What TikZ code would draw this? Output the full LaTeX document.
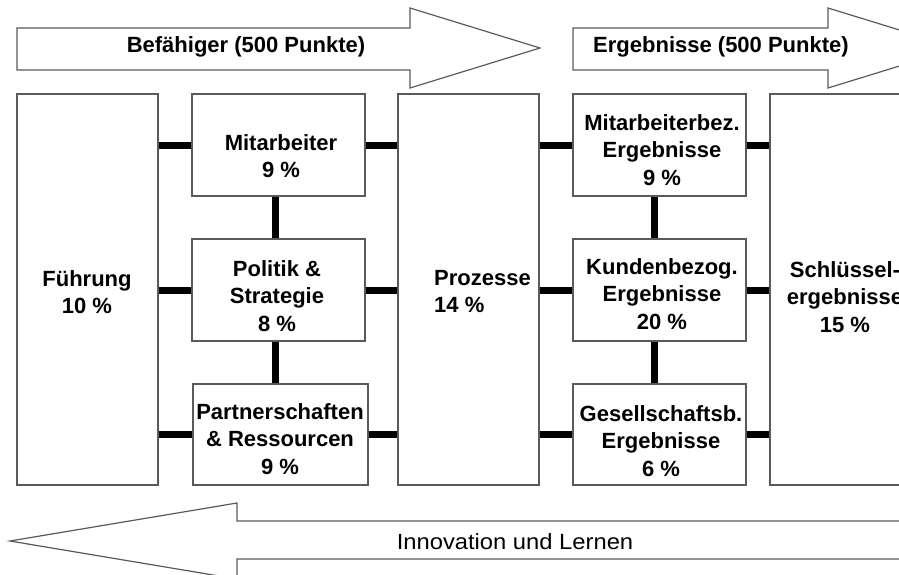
\documentclass[tikz,border=0pt]{standalone}
\usepackage{fontspec}
\setmainfont{Liberation Sans}
\definecolor{boxline}{HTML}{5A5A5A}
\begin{document}
\begin{tikzpicture}[x=1pt,y=-1pt,
  box/.style={draw=boxline, line width=1.3pt, fill=white, inner sep=0pt},
  conn/.style={line width=7pt, line cap=butt, black},
  bigarrow/.style={draw=boxline, line width=1.2pt, fill=white, line join=miter},
  txt/.style={font=\fontsize{22}{27.5}\selectfont\bfseries, inner sep=0pt, align=center},
  flowtxt/.style={font=\fontsize{22}{27}\selectfont\bfseries, inner sep=0pt},
  looptxt/.style={font=\fontsize{22}{26}\selectfont, inner sep=0pt}]
\useasboundingbox (0,0) rectangle (899,575);

% flow arrows on top
\draw[bigarrow] (17,28) -- (410,28) -- (410,8) -- (540,48) -- (410,88) -- (410,70) -- (17,70) -- cycle;
\node[flowtxt] (enablers) at (246,47) {Befähiger (500 Punkte)};
\draw[bigarrow] (573,28) -- (828,28) -- (828,8) -- (958,48) -- (828,88) -- (828,70) -- (573,70) -- cycle;
\node[flowtxt] (results) at (721,47) {Ergebnisse (500 Punkte)};

% feedback arrow at the bottom
\draw[bigarrow] (10,541) -- (237,503) -- (237,521) -- (910,521) -- (910,559) -- (237,559) -- (237,579) -- cycle;
\node[looptxt] (innov) at (515,542) {\scalebox{1.08}[1]{Innovation und Lernen}};

% criteria boxes
\node[box, minimum width=141pt, minimum height=391pt] (fuehrung) at (87.5,289.5) {};
\node[box, minimum width=173pt, minimum height=102pt] (mit) at (278.5,145) {};
\node[box, minimum width=173pt, minimum height=102pt] (pol) at (278.5,290) {};
\node[box, minimum width=175pt, minimum height=101pt] (part) at (280.5,434.5) {};
\node[box, minimum width=141pt, minimum height=391pt] (proz) at (468.5,289.5) {};
\node[box, minimum width=173pt, minimum height=102pt] (mbez) at (659.5,145) {};
\node[box, minimum width=173pt, minimum height=102pt] (kund) at (659.5,290) {};
\node[box, minimum width=173pt, minimum height=101pt] (ges) at (659.5,434.5) {};
\node[box, minimum width=135pt, minimum height=391pt] (schl) at (837.5,289.5) {};

% labels
\node[txt] (fuehrung-t) at (87,292) {Führung\\10 \%};
\node[txt] (mit-t) at (281,156) {Mitarbeiter\\9 \%};
\node[txt] (pol-t) at (277,296) {Politik \&\\Strategie\\8 \%};
\node[txt] (part-t) at (280,439) {Partnerschaften\\\& Ressourcen\\9 \%};
\node[txt, align=left, anchor=west] (proz-t) at (434,291.5) {Prozesse\\14 \%};
\node[txt] (mbez-t) at (662,150) {Mitarbeiterbez.\\Ergebnisse\\9 \%};
\node[txt] (kund-t) at (662,294) {Kundenbezog.\\Ergebnisse\\20 \%};
\node[txt] (ges-t) at (661,441) {Gesellschaftsb.\\Ergebnisse\\6 \%};
\node[txt] (schl-t) at (845,297) {Schlüssel-\\ergebnisse\\15 \%};

% horizontal links between columns
\foreach \b in {mit,pol,part}{
  \draw[conn] (fuehrung.east |- \b.west) -- (\b.west);
  \draw[conn] (\b.east) -- (proz.west |- \b.east);
}
\foreach \b in {mbez,kund,ges}{
  \draw[conn] (proz.east |- \b.west) -- (\b.west);
  \draw[conn] (\b.east) -- (schl.west |- \b.east);
}
% vertical links inside the stacks
\draw[conn] ([xshift=-3.5pt]mit.south) -- ([xshift=-3.5pt]pol.north);
\draw[conn] ([xshift=-3.5pt]pol.south) -- ([xshift=-3.5pt]pol.south |- part.north);
\draw[conn] ([xshift=-5.5pt]mbez.south) -- ([xshift=-5.5pt]kund.north);
\draw[conn] ([xshift=-5.5pt]kund.south) -- ([xshift=-5.5pt]ges.north);
\end{tikzpicture}
\end{document}
